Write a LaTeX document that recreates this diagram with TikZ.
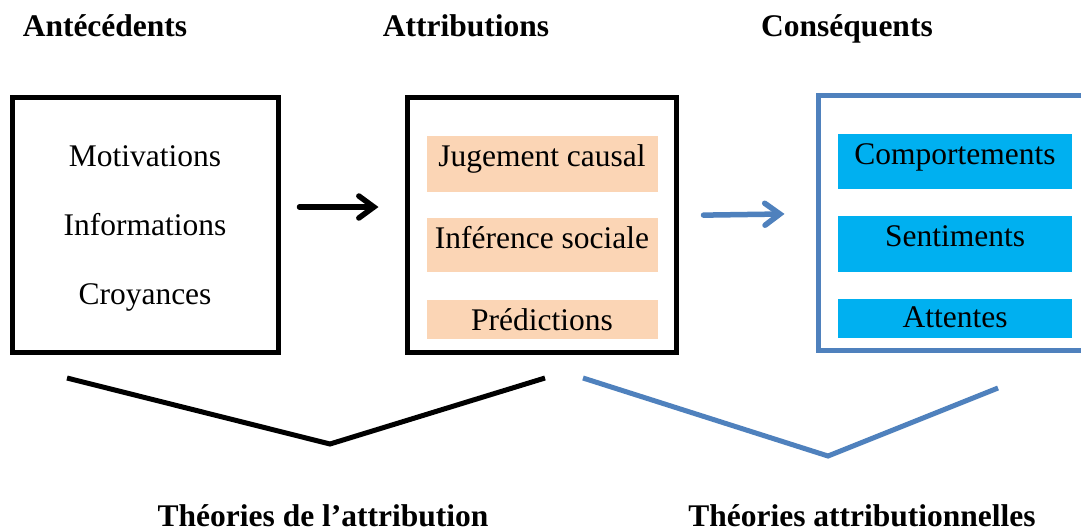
\documentclass[tikz,border=0pt]{standalone}
\usepackage{fontspec}
\setmainfont{Liberation Serif}
\usetikzlibrary{arrows.meta}
\definecolor{peach}{HTML}{FBD5B5}
\definecolor{cyanb}{HTML}{00B0F0}
\definecolor{steel}{HTML}{4F81BD}
\begin{document}
\begin{tikzpicture}[x=1pt,y=-1pt,
  txt/.style={inner sep=0pt,anchor=base,font=\fontsize{31.5}{36}\selectfont},
  ttl/.style={inner sep=0pt,anchor=base,font=\fontsize{31.5}{36}\selectfont\bfseries},
  bigbox/.style={draw,line width=5pt,minimum width=#1,inner sep=0pt},
  obox/.style={fill=peach,inner sep=0pt,minimum width=231},
  cbox/.style={fill=cyanb,inner sep=0pt,minimum width=234},
  arr/.style={line width=5.5pt,line cap=round,-{Straight Barb[length=15pt,width=22pt,line cap=round]}}
]
\fill[white] (0,0) rectangle (1081,531);
\useasboundingbox (0,0) rectangle (1081,531);
\clip (0,0) rectangle (1081,531);
% titles
\node[ttl] (t1) at (105,36) {Antécédents};
\node[ttl] (t2) at (466,36) {Attributions};
\node[ttl] (t3) at (847,36) {Conséquents};
% left box
\node[bigbox=266,minimum height=255] (L) at (145,224.5) {};
\node[txt] (l1) at (145,166) {Motivations};
\node[txt] (l2) at (145,235) {Informations};
\node[txt] (l3) at (145,304) {Croyances};
% middle box
\node[bigbox=269,minimum height=255] (M) at (541.5,224.5) {};
\node[obox,minimum height=56] (o1) at (542.5,164) {};
\node[obox,minimum height=54] (o2) at (542.5,245) {};
\node[obox,minimum height=39] (o3) at (542.5,319.5) {};
\node[txt] (m1) at (542,166) {Jugement causal};
\node[txt] (m2) at (542,248) {Inférence sociale};
\node[txt] (m3) at (542,330) {Prédictions};
% right box
\node[bigbox=280,minimum height=255,draw=steel] (R) at (958,222.5) {};
\node[cbox,minimum height=55] (c1) at (955,161.5) {};
\node[cbox,minimum height=56] (c2) at (955,244) {};
\node[cbox,minimum height=39] (c3) at (955,318.5) {};
\node[txt] (r1) at (955,164) {Comportements};
\node[txt] (r2) at (955,246) {Sentiments};
\node[txt] (r3) at (955,327) {Attentes};
% arrows
\draw[arr,shorten <=19pt,shorten >=26pt] ([yshift=17.5pt]L.east) -- ([yshift=17.5pt]M.west);
\draw[arr,draw=steel,shorten <=25pt,shorten >=31pt] ([yshift=9pt]M.east) -- ([yshift=9pt]R.west);
% brackets
\draw[line width=5pt] (67,378) -- (330,444) -- (545,378);
\draw[line width=5pt,steel] (583,378) -- (828,456) -- (998,388);
% bottom labels
\node[ttl] (b1) at (323,526) {Théories de l’attribution};
\node[ttl] (b2) at (862,526) {Théories attributionnelles};
\end{tikzpicture}
\end{document}
